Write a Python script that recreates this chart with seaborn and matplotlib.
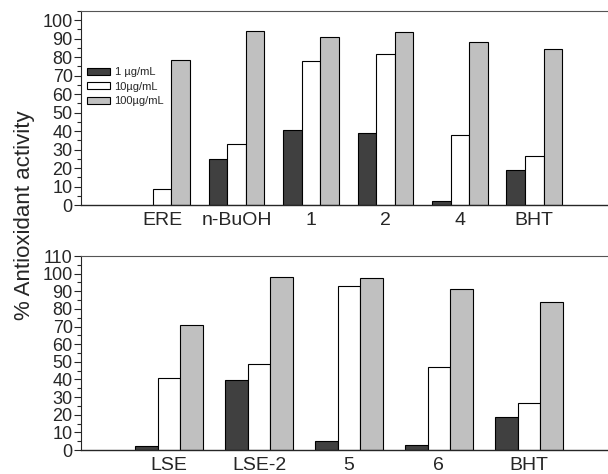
import numpy as np
import pandas as pd
import matplotlib
matplotlib.use("Agg")
import matplotlib.pyplot as plt
from matplotlib.ticker import MultipleLocator
import seaborn as sns

# Values (% antioxidant activity)
doses = ['1 \u00b5g/mL', '10\u00b5g/mL', '100\u00b5g/mL']

top_labels = ['ERE', 'n-BuOH', '1', '2', '4', 'BHT']
top_1 = [np.nan, 24.7, 40.5, 39.0, 2.0, 18.9]
top_10 = [8.6, 33.0, 78.0, 81.6, 37.8, 26.5]
top_100 = [78.5, 94.3, 91.0, 93.6, 88.0, 84.2]

bottom_labels = ['LSE', 'LSE-2', '5', '6', 'BHT']
bottom_1 = [2.4, 39.6, 5.0, 2.6, 18.9]
bottom_10 = [40.9, 48.6, 93.0, 47.0, 26.4]
bottom_100 = [70.7, 98.2, 97.8, 91.2, 84.0]

colors = ['#404040', '#ffffff', '#c0c0c0']


def to_long(labels, s1, s10, s100):
    rows = []
    for dose, vals in zip(doses, [s1, s10, s100]):
        for lab, v in zip(labels, vals):
            rows.append({'sample': lab, 'dose': dose, 'activity': v})
    return pd.DataFrame(rows)


df_top = to_long(top_labels, top_1, top_10, top_100)
df_bot = to_long(bottom_labels, bottom_1, bottom_10, bottom_100)

sns.set_style("ticks")
plt.rcParams['font.family'] = ['Liberation Sans', 'DejaVu Sans']

fig = plt.figure(figsize=(6.08, 4.74), dpi=100)
ax1 = fig.add_axes([0.1332, 0.5675, 0.8668, 0.4093])
ax2 = fig.add_axes([0.1332, 0.0506, 0.8668, 0.4093])

sns.barplot(data=df_top, x='sample', y='activity', hue='dose', order=top_labels,
            hue_order=doses, palette=colors, edgecolor='black', linewidth=0.8,
            width=0.75, errorbar=None, ax=ax1)
sns.barplot(data=df_bot, x='sample', y='activity', hue='dose', order=bottom_labels,
            hue_order=doses, palette=colors, edgecolor='black', linewidth=0.8,
            width=0.75, errorbar=None, ax=ax2)

ax1.set_xlim(-1.09, 5.99)
ax1.set_ylim(0, 105)
ax1.yaxis.set_major_locator(MultipleLocator(10))
ax1.yaxis.set_minor_locator(MultipleLocator(5))
ax1.set_yticks(range(0, 101, 10))

ax2.set_xlim(-0.98, 4.88)
ax2.set_ylim(0, 110)
ax2.yaxis.set_major_locator(MultipleLocator(10))
ax2.yaxis.set_minor_locator(MultipleLocator(5))

for ax in (ax1, ax2):
    ax.set_xlabel('')
    ax.set_ylabel('')
    ax.spines['right'].set_visible(False)
    ax.spines['top'].set_color('#555555')
    ax.spines['top'].set_linewidth(0.8)
    ax.spines['left'].set_linewidth(0.8)
    ax.spines['bottom'].set_linewidth(1.0)
    ax.tick_params(axis='x', length=0, labelsize=14, pad=5)
    ax.tick_params(axis='y', which='major', length=5, width=0.8, labelsize=13, pad=1)
    ax.tick_params(axis='y', which='minor', length=3, width=0.8)

ax2.get_legend().remove()
ax1.legend(loc='upper left', bbox_to_anchor=(0.011, 0.71), frameon=False,
           fontsize=8, handlelength=2.1, handleheight=0.6, labelspacing=0.4,
           handletextpad=0.4, borderaxespad=0, borderpad=0)

fig.text(0.041, 0.546, '% Antioxidant activity', rotation=90, ha='center',
         va='center', fontsize=16)

fig.savefig('out.png', dpi=100)
